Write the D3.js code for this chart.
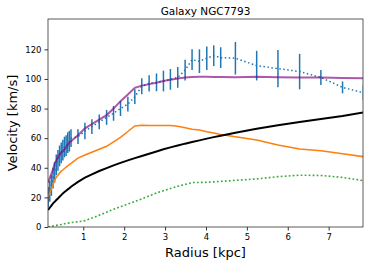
<!DOCTYPE html>
<html>
<head>
<meta charset="utf-8">
<script src="https://cdn.jsdelivr.net/npm/d3@7"></script>
<style>
  body { margin: 0; background: #fff; }
  text { font-family: "DejaVu Sans", sans-serif; }
</style>
</head>
<body>
<div id="chart"></div>
<script>
// radii of the data points [kpc]
var radius = [0.14, 0.18, 0.22, 0.26, 0.30, 0.34, 0.38, 0.42, 0.46, 0.50, 0.54, 0.58, 0.62, 0.66, 0.70,
  0.87, 1.04, 1.21, 1.39, 1.57, 1.74, 1.91, 2.09, 2.26, 2.43, 2.61, 2.79, 2.96, 3.13, 3.31, 3.49,
  3.66, 3.84, 4.02, 4.19, 4.36, 4.72, 5.24, 5.76, 6.29, 6.81, 7.34, 7.85];
// observed rotation velocity and its error
var vObs = [20, 24, 28, 33, 37, 42, 45, 48, 50, 52, 54, 55, 57, 58, 60,
  61, 64.8, 67.8, 71, 74, 76.8, 80, 83, 88, 95, 97, 97.7, 98.6, 99.7, 101, 106,
  113, 112, 114, 115.7, 114.4, 114, 109, 107, 105, 101, 94.3, 90.7];
var vErr = [7, 7, 7, 7, 7, 7, 7, 7, 7, 7, 7, 7, 7, 7, 6,
  5, 5.6, 5, 5, 5, 5, 5, 5, 5, 5.4, 5.5, 6, 7, 7, 7, 7,
  7, 8, 8, 7, 7, 11, 10, 12.6, 12, 5, 4, 5];
// model components
var vTotal = [30, 33, 36, 39, 43, 45, 47, 49, 50.5, 51, 52.5, 54, 55.5, 57, 58,
  62, 66.6, 69.5, 72.5, 75.6, 80, 85, 89.5, 94, 95.5, 96.5, 97.5, 98.6, 99.5, 100.3, 101,
  101.3, 101.5, 101.5, 101.4, 101.3, 101.2, 101.5, 101.2, 101, 101, 100.7, 100.4];
var vDisk = [20.5, 23, 26, 28.5, 31.7, 33.5, 35, 36.5, 37.7, 38.5, 39.5, 40.5, 41.3, 42.2, 43,
  46.5, 48.6, 50.5, 52.5, 54.5, 57.5, 60.5, 64.5, 68.2, 68.7, 68.6, 68.5, 68.5, 68.6, 68, 67,
  66, 65.5, 64.4, 63.5, 62.5, 61, 58.8, 55.4, 52.7, 51.5, 49.5, 47.5];
var vHalo = [11.5, 13, 14.5, 16, 17, 18.2, 19.3, 20.4, 21.5, 22.7, 23.6, 24.5, 25.4, 26.2, 27.2,
  30.5, 33.3, 35.5, 37.8, 39.8, 41.6, 43.3, 45, 46.5, 48, 49.5, 51, 52.5, 53.8, 55, 56.3,
  57.4, 58.5, 59.7, 60.7, 61.7, 63.7, 66.3, 68.8, 71, 73, 75, 77.4];
var vGas = [0.2, 0.3, 0.5, 0.7, 0.9, 1.1, 1.3, 1.5, 1.7, 2, 2.2, 2.4, 2.6, 2.8, 3,
  3.5, 4.3, 6, 8, 10, 12, 13.7, 15.5, 17.2, 19, 21, 23, 24.5, 26, 27.5, 28.8,
  30, 30.1, 30.2, 30.5, 30.8, 31.5, 32.5, 34, 35, 34.8, 33.5, 31.3];

var xTicks = [1, 2, 3, 4, 5, 6, 7];
var yTicks = [0, 20, 40, 60, 80, 100, 120];

var margin = {top: 19, right: 11, bottom: 39, left: 48},
  width = 374 - margin.left - margin.right,
  height = 266 - margin.top - margin.bottom;

var x = d3.scaleLinear().domain([0.137, 7.84]).range([0, width]);
var y = d3.scaleLinear().domain([0, 140.5]).range([height, 0]);

var svg = d3.select("#chart").append("svg")
  .attr("width", 374)
  .attr("height", 266);

var g = svg.append("g")
  .attr("transform", "translate(" + margin.left + "," + margin.top + ")");

g.append("clipPath").attr("id", "clip")
  .append("rect").attr("width", width).attr("height", height);

var plot = g.append("g").attr("clip-path", "url(#clip)");

var rows = radius.map(function(r, i) {
  return {r: r, obs: vObs[i], err: vErr[i], total: vTotal[i], disk: vDisk[i], halo: vHalo[i], gas: vGas[i]};
});

function lineFor(key) {
  return d3.line()
    .x(function(d) { return x(d.r); })
    .y(function(d) { return y(d[key]); });
}

// error bars
plot.selectAll(".err")
  .data(rows)
  .enter().append("line")
  .attr("class", "err")
  .attr("x1", function(d) { return x(d.r); })
  .attr("x2", function(d) { return x(d.r); })
  .attr("y1", function(d) { return y(d.obs - d.err); })
  .attr("y2", function(d) { return y(d.obs + d.err); })
  .style("stroke", "#1f77b4")
  .style("stroke-width", 1.5);

plot.append("path")
  .attr("d", lineFor("obs")(rows))
  .style("fill", "none")
  .style("stroke", "#1f77b4")
  .style("stroke-width", 1.5)
  .style("stroke-dasharray", "1.5,2.5");

plot.append("path")
  .attr("d", lineFor("disk")(rows))
  .style("fill", "none")
  .style("stroke", "#ff7f0e")
  .style("stroke-width", 1.5);

plot.append("path")
  .attr("d", lineFor("gas")(rows))
  .style("fill", "none")
  .style("stroke", "#3aaa3a")
  .style("stroke-width", 1.6)
  .style("stroke-dasharray", "1.8,2.2");

plot.append("path")
  .attr("d", lineFor("halo")(rows))
  .style("fill", "none")
  .style("stroke", "#000")
  .style("stroke-width", 2);

plot.append("path")
  .attr("d", lineFor("total")(rows))
  .style("fill", "none")
  .style("stroke", "#800080")
  .style("stroke-opacity", 0.65)
  .style("stroke-width", 2);

// axes
var xAxis = d3.axisBottom(x).tickValues(xTicks).tickSize(3.5).tickPadding(3).tickFormat(d3.format("d"));
var yAxis = d3.axisLeft(y).tickValues(yTicks).tickSize(3.5).tickPadding(3).tickFormat(d3.format("d"));

g.append("g")
  .attr("transform", "translate(0," + height + ")")
  .call(xAxis)
  .call(function(s) { s.select(".domain").remove(); })
  .selectAll("text").style("font-size", "8.5px").style("fill", "#000");

g.append("g")
  .call(yAxis)
  .call(function(s) { s.select(".domain").remove(); })
  .selectAll("text").style("font-size", "8.5px").style("fill", "#000");

g.selectAll(".tick line").style("stroke", "#000").style("stroke-width", 0.8);

g.append("rect")
  .attr("width", width)
  .attr("height", height)
  .style("fill", "none")
  .style("stroke", "#333")
  .style("stroke-width", 0.8);

svg.append("text")
  .attr("x", margin.left + width / 2)
  .attr("y", 15)
  .attr("text-anchor", "middle")
  .style("font-size", "10.5px")
  .text("Galaxy NGC7793");

svg.append("text")
  .attr("x", margin.left + width / 2)
  .attr("y", 257)
  .attr("text-anchor", "middle")
  .style("font-size", "13px")
  .text("Radius [kpc]");

svg.append("text")
  .attr("transform", "translate(17," + (margin.top + height / 2) + ") rotate(-90)")
  .attr("text-anchor", "middle")
  .style("font-size", "13px")
  .text("Velocity [km/s]");
</script>
</body>
</html>
